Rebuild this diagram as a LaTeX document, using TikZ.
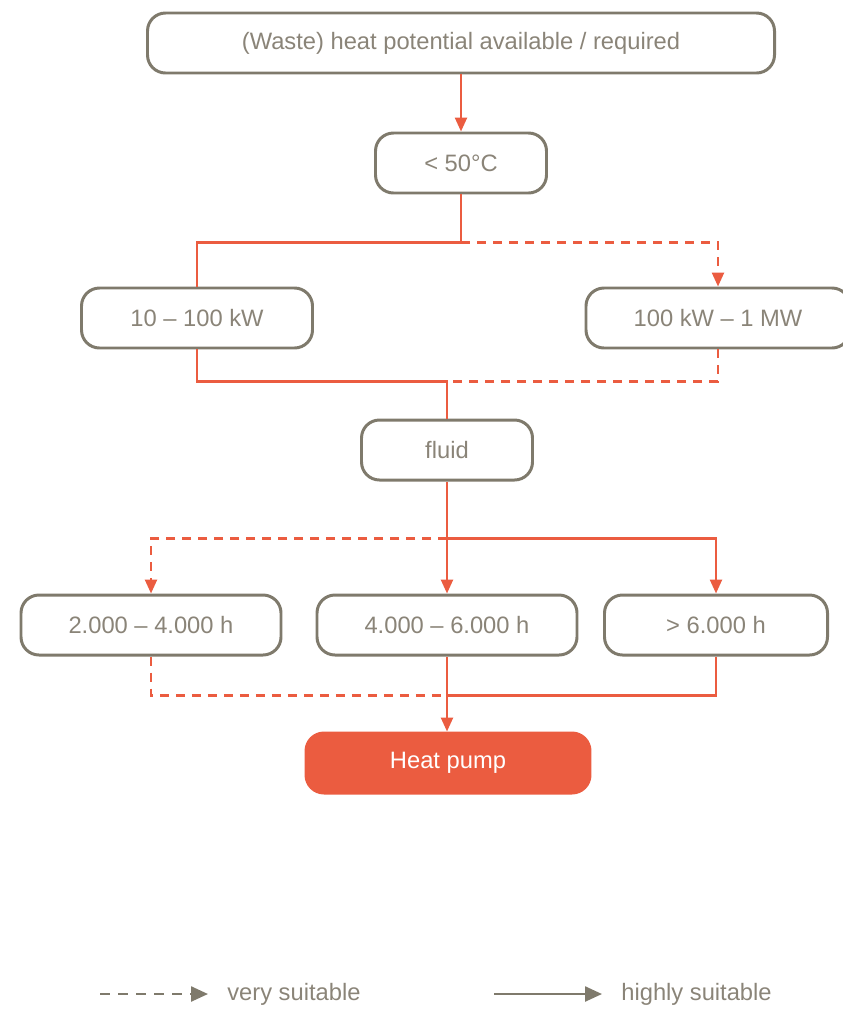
\documentclass[tikz,border=0pt]{standalone}
\usepackage{fontspec}
\setmainfont{Liberation Sans}
\usepackage{tikz}
\usetikzlibrary{arrows.meta}

\definecolor{hpred}{HTML}{EB5C40}
\definecolor{hpgray}{HTML}{7F7A6C}
\definecolor{hptext}{HTML}{8A8478}

\begin{document}
\begin{tikzpicture}[node distance=2.4cm,
		box/.style={draw=hpgray,line width=1.7pt,rounded corners=0.36cm,minimum height=1.2cm,text=hptext,font=\fontsize{13.5}{16}\selectfont},
		flow/.style={draw=hpred,line width=1.4pt},
		maybe/.style={flow,dash pattern=on 0.18cm off 0.14cm},
		tip/.style={-{Triangle[length=0.28cm,width=0.24cm]}},
		bigtip/.style={-{Triangle[length=0.34cm,width=0.3cm]}}]
				\useasboundingbox (0,0) rectangle (16.86,-20.2);
				\node[box,minimum width=12.54cm] (heat) at (9.22,-0.86) {(Waste) heat potential available / required};
				\node[box,minimum width=3.42cm] (temp) [below of=heat] {< 50°C};

				\node[box,minimum width=4.62cm] (power1) [below of=temp,yshift=-0.7cm,xshift=-5.28cm] {10 – 100 kW};
				\node[box,minimum width=5.28cm] (power2) [right of=power1,xshift=8.02cm] {100 kW – 1 MW};
				\node[box,minimum width=3.42cm] (fluid) [below of=temp,yshift=-3.34cm,xshift=-0.28cm] {fluid};

				\node[box,minimum width=5.2cm] (hours2) [below of=fluid,yshift=-1.1cm] {4.000 – 6.000 h};
				\node[box,minimum width=5.2cm] (hours1) [left of=hours2,xshift=-3.52cm] {2.000 – 4.000 h};
				\node[box,minimum width=4.46cm] (hours3) [right of=hours2,xshift=2.98cm] {> 6.000 h};
				\node[box,draw=hpred,fill=hpred,text=white,minimum width=5.68cm] (pump) [below of=hours2,yshift=-0.36cm,xshift=0.02cm] {Heat pump};

				\coordinate (split1) at ([yshift=-0.96cm]temp.south);
				\coordinate (join1) at ([yshift=0.74cm]fluid.north);
				\coordinate (split2) at ([yshift=-1.14cm]fluid.south);
				\coordinate (join2) at ([yshift=-0.78cm]hours2.south);

				% very suitable
				\draw[maybe,tip] (split1) -| (power2.north);
				\draw[maybe] (power2.south) |- (join1);
				\draw[maybe,tip] (split2) -| (hours1.north);
				\draw[maybe] (hours1.south) |- (join2);

				% highly suitable
				\draw[flow,tip] (heat) -- (temp);
				\draw[flow] (temp.south) -- (split1) -| (power1.north);
				\draw[flow] (power1.south) |- (join1) -- (fluid.north);
				\draw[flow,tip] (fluid.south) -- (hours2.north);
				\draw[flow,tip] (split2) -| (hours3.north);
				\draw[flow] (hours3.south) |- (join2);
				\draw[flow,tip] (hours2.south) -- ([xshift=-0.02cm]pump.north);

				% legend
				\coordinate (dashA) at (2.0,-19.88);
				\coordinate (dashB) at (4.16,-19.88);
				\coordinate (lineA) at (9.88,-19.88);
				\coordinate (lineB) at (12.04,-19.88);
				\draw[flow,draw=hpgray,dash pattern=on 0.2cm off 0.16cm,bigtip] (dashA) -- (dashB);
				\draw[flow,draw=hpgray,bigtip] (lineA) -- (lineB);
				\node[anchor=west,text=hptext,font=\fontsize{13.5}{16}\selectfont,inner sep=0pt] (very) at ([xshift=0.38cm]dashB) {very suitable};
				\node[anchor=west,text=hptext,font=\fontsize{13.5}{16}\selectfont,inner sep=0pt] (highly) at ([xshift=0.38cm]lineB) {highly suitable};
			\end{tikzpicture}
\end{document}
